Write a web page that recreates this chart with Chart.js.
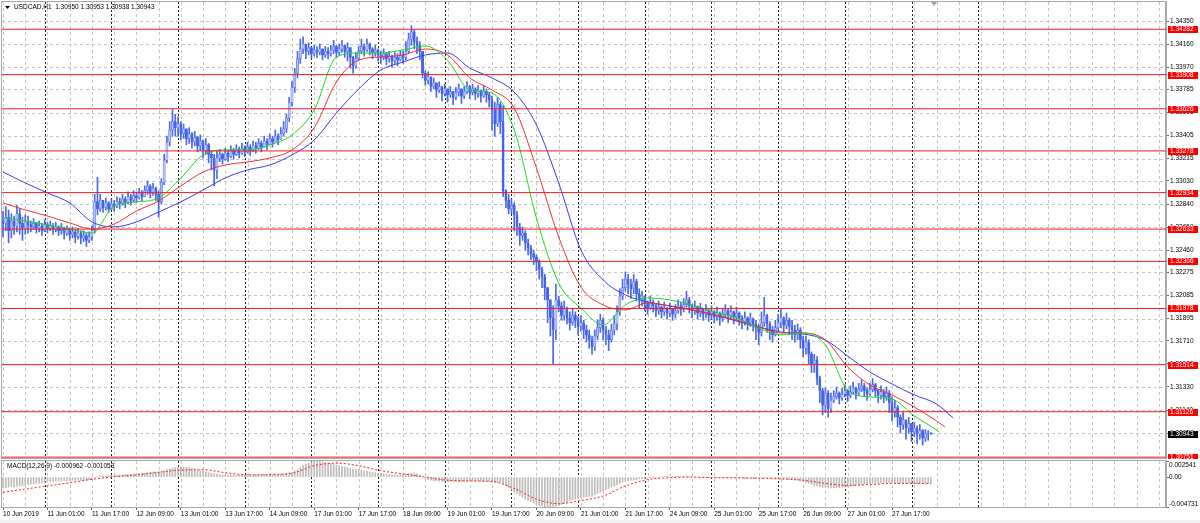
<!DOCTYPE html>
<html>
	<head>
		<meta charset="UTF-8" />
		<title>USDCAD,H1</title>
		<style type="text/css">
body { margin: 0; background: #ffffff; }
.chartBox { position: relative; width: 1200px; height: 523px; overflow: hidden; }
#priceChart { position: absolute; left: 0; top: 0; }
#macdChart { position: absolute; left: 0; top: 459px; }
		</style>
	</head>
	<body>
		<script src="https://cdn.jsdelivr.net/npm/chart.js@4/dist/chart.umd.min.js"></script>
		<div class="chartBox">
			<canvas id="priceChart" width="1200" height="459"></canvas>
			<canvas id="macdChart" width="1200" height="64"></canvas>
		</div>
		<script charset="utf-8">
const title = 'USDCAD,H1  1.30950 1.30953 1.30938 1.30943';
const macdTitle = 'MACD(12,26,9) -0.000962 -0.001053';

// one label every 16 H1 bars, first bar = 10 Jun 09:00
const timeLabels = ['10 Jun 2019', '11 Jun 01:00', '11 Jun 17:00', '12 Jun 09:00', '13 Jun 01:00', '13 Jun 17:00',
	'14 Jun 09:00', '17 Jun 01:00', '17 Jun 17:00', '18 Jun 09:00', '19 Jun 01:00', '19 Jun 17:00', '20 Jun 09:00',
	'21 Jun 01:00', '21 Jun 17:00', '24 Jun 09:00', '25 Jun 01:00', '25 Jun 17:00', '26 Jun 09:00', '27 Jun 01:00',
	'27 Jun 17:00'];
const labelEvery = 16;
const gridEvery = 8;
// bar index of each 00:00 bar (period separators)
const daySeparators = [15, 39, 63, 87, 111, 135, 159, 183, 207, 231, 255, 279, 303, 327, 351];

const priceTicks = [1.34350, 1.34160, 1.33970, 1.33785, 1.33595, 1.33405, 1.33215, 1.33030, 1.32840, 1.32650,
	1.32460, 1.32275, 1.32085, 1.31895, 1.31710, 1.31520, 1.31330, 1.31140, 1.30950];
const levels = [1.34282, 1.33908, 1.33626, 1.33278, 1.32934, 1.32633, 1.32366, 1.31978, 1.31514, 1.31126, 1.30751];
const lastPrice = 1.30943;

const macdTicks = [0.002541, 0, -0.004731];
const macdTickLabels = ['0.002541', '0.00', '-0.004731'];

const firstOpen = 1.3270;
const closes = [
	1.3268,1.3273,1.3262,1.3270,1.3266,1.3276,1.3268,1.3264,1.3270,1.3267,
	1.3265,1.3268,1.3264,1.3266,1.3262,1.3267,1.3264,1.3266,1.3263,1.3265,
	1.3262,1.3264,1.3260,1.3263,1.3259,1.3261,1.3257,1.3260,1.3256,1.3258,1.3254,1.3257,
	1.3262,1.3286,1.3280,1.3287,
	1.3281,1.3285,1.3280,1.3284,1.3282,1.3286,1.3284,1.3288,1.3285,1.3290,1.3287,1.3291,1.3289,1.3293,1.3290,1.3295,1.3299,1.3293,1.3297,1.3292,
	1.3286,
	1.3302,1.3320,1.3335,1.3345,1.3352,1.3347,
	1.3350,1.3342,1.3346,1.3338,1.3342,1.3335,1.3339,1.3332,1.3336,1.3328,1.3333,1.3325,1.3322,
	1.3312,1.3322,
	1.3325,1.3321,1.3326,1.3323,1.3328,1.3325,1.3329,1.3326,1.3330,1.3327,1.3331,1.3328,1.3332,1.3330,1.3334,1.3331,1.3336,1.3333,1.3338,1.3335,1.3340,1.3337,1.3342,1.3346,
	1.3355,1.3368,1.3380,1.3392,1.3404,1.3412,1.3416,
	1.3410,1.3413,1.3408,1.3411,1.3409,1.3412,1.3407,1.3410,1.3408,1.3411,1.3414,1.3409,1.3412,1.3415,1.3410,1.3413,1.3405,1.3398,1.3404,1.3410,
	1.3414,1.3411,1.3416,1.3412,1.3409,1.3411,1.3407,1.3405,1.3408,1.3404,1.3406,1.3402,1.3405,1.3403,1.3407,1.3405,1.3410,
	1.3420,1.3426,1.3418,1.3415,1.3410,
	1.3392,1.3386,1.3389,1.3381,1.3384,1.3378,1.3381,1.3375,1.3379,1.3374,1.3377,1.3372,1.3376,1.3379,1.3373,1.3377,1.3381,1.3376,1.3379,1.3375,1.3378,1.3373,1.3377,1.3374,1.3370,
	1.3362,1.3350,1.3366,1.3352,
	1.3295,
	1.3287,1.3280,1.3283,1.3275,1.3265,1.3258,1.3260,1.3252,1.3248,1.3243,1.3240,1.3236,1.3230,1.3224,1.3215,1.3205,1.3190,
	1.3180,
	1.3205,1.3200,1.3192,1.3198,1.3190,1.3186,1.3192,1.3188,1.3183,1.3186,1.3180,1.3176,1.3172,1.3166,1.3175,1.3182,1.3188,1.3180,1.3176,1.3172,1.3180,1.3185,
	1.3195,1.3208,1.3215,1.3222,1.3218,1.3214,1.3220,1.3210,1.3205,1.3208,
	1.3202,1.3198,1.3203,1.3200,1.3196,1.3199,1.3195,1.3198,1.3194,1.3197,1.3193,1.3196,1.3200,1.3197,1.3201,1.3205,1.3200,1.3196,1.3199,1.3194,
	1.3197,1.3193,1.3196,1.3192,1.3195,1.3191,1.3194,1.3190,1.3193,1.3196,1.3192,1.3195,1.3191,1.3194,1.3190,1.3187,1.3190,1.3186,1.3189,1.3185,
	1.3182,1.3178,1.3186,1.3192,1.3185,1.3180,1.3176,1.3182,1.3186,1.3190,1.3184,1.3188,1.3183,
	1.3180,1.3176,1.3180,1.3172,1.3165,1.3170,1.3160,1.3152,1.3155,1.3140,1.3130,1.3118,1.3128,1.3115,1.3122,
	1.3125,1.3128,1.3124,1.3127,1.3130,1.3126,1.3129,1.3132,1.3128,1.3131,1.3134,1.3130,1.3127,1.3131,1.3135,1.3130,1.3126,1.3129,1.3125,1.3128,
	1.3120,1.3112,1.3116,1.3108,1.3102,1.3106,1.3099,1.3103,1.3096,1.3099,1.3094,1.3097,1.3091,1.3095,1.3095,1.30943
];
const highs = [
	1.3278,1.3282,1.3279,1.3276,1.3274,1.3283,1.3280,1.3273,1.3275,1.3274,
	1.3270,1.3272,1.3269,1.3270,1.3268,1.3271,1.3269,1.3270,1.3268,1.3269,
	1.3266,1.3268,1.3265,1.3266,1.3264,1.3265,1.3263,1.3264,1.3262,1.3262,1.3260,1.3261,
	1.3266,1.3292,1.3306,1.3292,
	1.3287,1.3289,1.3286,1.3288,1.3287,1.3290,1.3289,1.3292,1.3290,1.3294,1.3292,1.3295,1.3294,1.3297,1.3295,1.3299,1.3303,1.3300,1.3301,1.3298,
	1.3295,
	1.3305,1.3325,1.3340,1.3352,1.3362,1.3358,
	1.3356,1.3352,1.3350,1.3346,1.3347,1.3343,1.3344,1.3340,1.3341,1.3337,1.3338,1.3334,1.3328,
	1.3325,1.3328,
	1.3329,1.3326,1.3330,1.3328,1.3332,1.3330,1.3333,1.3331,1.3334,1.3332,1.3335,1.3333,1.3336,1.3335,1.3338,1.3336,1.3340,1.3338,1.3342,1.3340,1.3345,1.3342,1.3347,1.3352,
	1.3358,1.3372,1.3385,1.3396,1.3410,1.3420,1.3422,
	1.3416,1.3417,1.3413,1.3415,1.3414,1.3416,1.3412,1.3414,1.3413,1.3415,1.3419,1.3415,1.3416,1.3419,1.3415,1.3417,1.3413,1.3406,1.3409,1.3414,
	1.3420,1.3416,1.3420,1.3417,1.3413,1.3415,1.3412,1.3410,1.3412,1.3409,1.3410,1.3407,1.3409,1.3408,1.3411,1.3410,1.3418,
	1.3425,1.3431,1.3428,1.3422,1.3418,
	1.3410,1.3394,1.3393,1.3389,1.3388,1.3384,1.3385,1.3381,1.3383,1.3379,1.3381,1.3377,1.3380,1.3383,1.3378,1.3381,1.3385,1.3382,1.3383,1.3380,1.3382,1.3378,1.3381,1.3379,1.3376,
	1.3373,1.3368,1.3372,1.3368,
	1.3365,
	1.3296,1.3292,1.3288,1.3285,1.3278,1.3268,1.3265,1.3262,1.3255,1.3250,1.3246,1.3242,1.3238,1.3232,1.3226,1.3215,1.3205,
	1.3200,
	1.3218,1.3208,1.3203,1.3204,1.3199,1.3195,1.3198,1.3195,1.3191,1.3192,1.3188,1.3184,1.3180,1.3175,1.3180,1.3188,1.3193,1.3190,1.3183,1.3180,1.3185,1.3192,
	1.3200,1.3214,1.3222,1.3228,1.3226,1.3222,1.3226,1.3222,1.3214,1.3212,
	1.3207,1.3204,1.3208,1.3205,1.3202,1.3204,1.3200,1.3203,1.3199,1.3202,1.3198,1.3201,1.3205,1.3203,1.3206,1.3212,1.3207,1.3201,1.3204,1.3200,
	1.3202,1.3198,1.3201,1.3197,1.3200,1.3196,1.3199,1.3195,1.3198,1.3201,1.3197,1.3200,1.3196,1.3199,1.3195,1.3192,1.3195,1.3191,1.3194,1.3190,
	1.3188,1.3185,1.3195,1.3207,1.3193,1.3187,1.3183,1.3188,1.3193,1.3198,1.3191,1.3194,1.3190,
	1.3188,1.3184,1.3185,1.3182,1.3175,1.3175,1.3172,1.3162,1.3160,1.3158,1.3142,1.3132,1.3132,1.3130,1.3128,
	1.3130,1.3133,1.3129,1.3132,1.3135,1.3131,1.3134,1.3137,1.3133,1.3136,1.3139,1.3136,1.3132,1.3136,1.3140,1.3136,1.3131,1.3134,1.3131,1.3133,
	1.3130,1.3125,1.3122,1.3118,1.3110,1.3112,1.3106,1.3108,1.3103,1.3104,1.3101,1.3102,1.3098,1.3098,1.3097,1.30953
];
const lows = [
	1.3257,1.3262,1.3252,1.3256,1.3259,1.3261,1.3259,1.3254,1.3259,1.3260,
	1.3261,1.3263,1.3260,1.3261,1.3258,1.3261,1.3260,1.3262,1.3259,1.3261,
	1.3258,1.3259,1.3255,1.3258,1.3254,1.3256,1.3252,1.3255,1.3251,1.3253,1.3249,1.3252,
	1.3254,1.3260,1.3275,1.3278,
	1.3277,1.3279,1.3277,1.3279,1.3278,1.3281,1.3280,1.3283,1.3281,1.3284,1.3283,1.3286,1.3285,1.3288,1.3286,1.3290,1.3292,1.3289,1.3291,1.3287,
	1.3273,
	1.3284,1.3300,1.3318,1.3332,1.3340,1.3340,
	1.3340,1.3337,1.3338,1.3333,1.3334,1.3330,1.3332,1.3327,1.3328,1.3322,1.3325,1.3318,1.3312,
	1.3299,1.3305,
	1.3319,1.3317,1.3320,1.3319,1.3322,1.3321,1.3324,1.3322,1.3325,1.3323,1.3326,1.3324,1.3327,1.3326,1.3329,1.3327,1.3331,1.3329,1.3333,1.3331,1.3335,1.3333,1.3337,1.3340,
	1.3343,1.3352,1.3365,1.3376,1.3388,1.3400,1.3408,
	1.3404,1.3407,1.3404,1.3406,1.3405,1.3407,1.3403,1.3405,1.3404,1.3406,1.3408,1.3405,1.3407,1.3409,1.3405,1.3402,1.3396,1.3392,1.3396,1.3402,
	1.3408,1.3406,1.3410,1.3407,1.3404,1.3406,1.3402,1.3400,1.3403,1.3399,1.3401,1.3397,1.3400,1.3398,1.3402,1.3400,1.3403,
	1.3408,1.3415,1.3412,1.3408,1.3403,
	1.3388,1.3382,1.3383,1.3377,1.3379,1.3372,1.3376,1.3369,1.3373,1.3368,1.3372,1.3366,1.3370,1.3373,1.3367,1.3371,1.3375,1.3371,1.3374,1.3370,1.3372,1.3368,1.3372,1.3368,1.3364,
	1.3345,1.3340,1.3348,1.3342,
	1.3290,
	1.3281,1.3276,1.3276,1.3262,1.3258,1.3250,1.3254,1.3246,1.3242,1.3238,1.3234,1.3229,1.3222,1.3215,1.3205,1.3186,1.3175,
	1.3152,
	1.3172,1.3195,1.3188,1.3188,1.3185,1.3180,1.3184,1.3182,1.3176,1.3179,1.3173,1.3170,1.3165,1.3160,1.3163,1.3172,1.3178,1.3172,1.3168,1.3163,1.3170,1.3176,
	1.3180,1.3192,1.3205,1.3212,1.3210,1.3206,1.3210,1.3204,1.3198,1.3200,
	1.3196,1.3193,1.3197,1.3195,1.3191,1.3193,1.3190,1.3192,1.3189,1.3191,1.3188,1.3190,1.3194,1.3192,1.3195,1.3199,1.3194,1.3190,1.3193,1.3189,
	1.3191,1.3188,1.3190,1.3187,1.3189,1.3186,1.3188,1.3184,1.3187,1.3190,1.3186,1.3189,1.3185,1.3188,1.3184,1.3181,1.3184,1.3180,1.3183,1.3179,
	1.3172,1.3168,1.3175,1.3183,1.3178,1.3172,1.3170,1.3175,1.3180,1.3182,1.3178,1.3181,1.3176,
	1.3172,1.3170,1.3172,1.3165,1.3158,1.3160,1.3152,1.3145,1.3145,1.3135,1.3120,1.3110,1.3112,1.3108,1.3112,
	1.3120,1.3123,1.3119,1.3122,1.3125,1.3121,1.3124,1.3127,1.3123,1.3126,1.3129,1.3125,1.3122,1.3126,1.3129,1.3125,1.3120,1.3123,1.3120,1.3122,
	1.3112,1.3105,1.3108,1.3100,1.3095,1.3098,1.3090,1.3095,1.3088,1.3092,1.3086,1.3090,1.3085,1.3088,1.3089,1.30938
];

// Alligator lines read every 8 bars; last value sits at lastBar + shift
const maStep = 8;
const jawShift = 8, teethShift = 5, lipsShift = 3;
const jaw = [1.33104,1.33014,1.32931,1.32849,1.32692,1.32651,1.32692,1.32774,1.32857,1.32956,
	1.33055,1.33121,1.33162,1.33245,1.33368,1.33591,1.33789,1.33946,1.34012,1.34070,
	1.34086,1.33962,1.33880,1.33764,1.33492,1.33014,1.32461,1.32213,1.32090,1.32032,
	1.31999,1.31966,1.31925,1.31875,1.31826,1.31784,1.31768,1.31718,1.31586,1.31454,
	1.31355,1.31264,1.31190,1.31075];
const teeth = [1.32849,1.32791,1.32741,1.32684,1.32634,1.32675,1.32782,1.32865,1.32989,1.33104,
	1.33162,1.33187,1.33220,1.33286,1.33468,1.33847,1.34028,1.34053,1.34070,1.34119,
	1.34070,1.33880,1.33781,1.33632,1.33137,1.32568,1.32155,1.32007,1.31966,1.32024,
	1.31999,1.31966,1.31925,1.31883,1.31826,1.31776,1.31776,1.31718,1.31496,1.31347,
	1.31264,1.31165,1.31050,1.31001];
const lips = [1.32725,1.32700,1.32667,1.32634,1.32601,1.32824,1.32857,1.32890,1.33055,1.33245,
	1.33286,1.33286,1.33327,1.33410,1.33616,1.34053,1.34086,1.34086,1.34111,1.34144,
	1.34028,1.33781,1.33756,1.33451,1.32725,1.32189,1.31982,1.31842,1.32007,1.32065,
	1.32048,1.32007,1.31949,1.31900,1.31817,1.31760,1.31776,1.31677,1.31306,1.31248,
	1.31231,1.31091,1.30976,1.30959];

const macdMain = [
	-0.00170,-0.00165,-0.00160,-0.00155,-0.00150,-0.00145,-0.00140,-0.00135,-0.00130,-0.00120,
	-0.00110,-0.00105,-0.00100,-0.00095,-0.00090,-0.00085,-0.00080,-0.00075,-0.00070,-0.00065,
	-0.00060,-0.00060,-0.00055,-0.00055,-0.00050,-0.00050,-0.00050,-0.00050,-0.00050,-0.00050,
	-0.00045,-0.00045,-0.00040,-0.00010,0.00010,0.00020,0.00020,0.00020,0.00025,0.00030,
	0.00030,0.00030,0.00035,0.00035,0.00040,0.00040,0.00045,0.00045,0.00050,0.00050,
	0.00060,0.00065,0.00070,0.00075,0.00080,0.00080,0.00080,0.00090,0.00100,0.00120,
	0.00130,0.00140,0.00150,0.00160,0.00160,0.00160,0.00155,0.00150,0.00140,0.00130,
	0.00110,0.00100,0.00090,0.00080,0.00070,0.00060,0.00050,0.00045,0.00040,0.00035,
	0.00030,0.00030,0.00030,0.00030,0.00030,0.00030,0.00030,0.00030,0.00030,0.00030,
	0.00035,0.00035,0.00040,0.00040,0.00040,0.00040,0.00040,0.00040,0.00045,0.00045,
	0.00050,0.00050,0.00060,0.00070,0.00080,0.00100,0.00120,0.00150,0.00180,0.00200,
	0.00220,0.00240,0.00250,0.002541,0.00250,0.00240,0.00230,0.00220,0.00210,0.00200,
	0.00190,0.00180,0.00170,0.00160,0.00150,0.00140,0.00130,0.00125,0.00120,0.00110,
	0.00100,0.00090,0.00080,0.00075,0.00070,0.00060,0.00055,0.00050,0.00045,0.00040,
	0.00035,0.00035,0.00035,0.00040,0.00045,0.00050,0.00055,0.00060,0.00060,0.00050,
	0.00030,0.00000,-0.00020,-0.00040,-0.00050,-0.00060,-0.00060,-0.00065,-0.00070,-0.00070,
	-0.00070,-0.00070,-0.00070,-0.00070,-0.00070,-0.00070,-0.00070,-0.00070,-0.00065,-0.00065,
	-0.00065,-0.00065,-0.00065,-0.00070,-0.00070,-0.00070,-0.00075,-0.00080,-0.00080,-0.00085,
	-0.00110,-0.00140,-0.00170,-0.00200,-0.00230,-0.00260,-0.00290,-0.00320,-0.00350,-0.00370,
	-0.00390,-0.00410,-0.00430,-0.00450,-0.00460,-0.00470,-0.004731,-0.00470,-0.00465,-0.00460,
	-0.00450,-0.00430,-0.00410,-0.00390,-0.00370,-0.00360,-0.00350,-0.00340,-0.00330,-0.00320,
	-0.00310,-0.00305,-0.00300,-0.00280,-0.00260,-0.00240,-0.00220,-0.00200,-0.00180,-0.00160,
	-0.00140,-0.00120,-0.00100,-0.00080,-0.00070,-0.00060,-0.00050,-0.00045,-0.00040,-0.00030,
	-0.00025,-0.00020,-0.00015,-0.00010,-0.00005,0.00000,0.00000,0.00005,0.00005,0.00010,
	0.00010,0.00010,0.00010,0.00010,0.00005,0.00005,0.00005,0.00005,0.00000,0.00000,
	0.00000,0.00000,-0.00005,-0.00005,-0.00005,-0.00005,-0.00010,-0.00010,-0.00010,-0.00010,
	-0.00010,-0.00010,-0.00015,-0.00015,-0.00015,-0.00015,-0.00015,-0.00020,-0.00020,-0.00020,
	-0.00020,-0.00020,-0.00020,-0.00015,-0.00015,-0.00015,-0.00015,-0.00020,-0.00020,-0.00025,
	-0.00025,-0.00030,-0.00030,-0.00035,-0.00040,-0.00045,-0.00050,-0.00060,-0.00070,-0.00085,
	-0.00100,-0.00115,-0.00130,-0.00140,-0.00150,-0.00160,-0.00165,-0.00170,-0.00170,-0.00170,
	-0.00170,-0.00165,-0.00160,-0.00155,-0.00150,-0.00145,-0.00140,-0.00130,-0.00125,-0.00120,
	-0.00115,-0.00110,-0.00105,-0.00100,-0.00100,-0.00095,-0.00095,-0.00090,-0.00090,-0.00090,
	-0.00090,-0.00090,-0.00095,-0.00095,-0.00100,-0.00100,-0.00100,-0.00105,-0.00105,-0.00105,
	-0.00105,-0.00105,-0.00100,-0.00100,-0.000962
];
// signal read every 8 bars, last value at the last bar
const macdSignal = [-0.0024,-0.0019,-0.0014,-0.0009,-0.00035,0.00005,0.00035,0.00075,0.0011,0.00115,
	0.0007,0.00035,0.0004,0.0006,0.0018,0.0022,0.0018,0.0010,0.0005,0.0000,
	-0.0005,-0.0006,-0.0007,-0.0018,-0.0035,-0.0042,-0.0037,-0.0030,-0.0014,-0.0004,
	-0.0001,0.0000,-0.0001,-0.0001,-0.0002,-0.0003,-0.0005,-0.0010,-0.0013,-0.0012,
	-0.0010,-0.0010,-0.001053];

const lastBar = closes.length - 1;
const viewFirst = -0.37, viewLast = 418.6;
const priceMin = 1.30744, priceMax = 1.34507;
const FONT = 'Liberation Sans';
const FSIZE = 6.5;

Chart.defaults.font.family = FONT;
Chart.defaults.font.size = FSIZE;
Chart.defaults.color = '#000000';

const opens = closes.map((c, i) => (i === 0 ? firstOpen : closes[i - 1]));
const wickData = closes.map((c, i) => ({x: i, y: [Math.min(lows[i], opens[i], c), Math.max(highs[i], opens[i], c)]}));
const bodyData = closes.map((c, i) => ({x: i, y: [opens[i], c]}));
const bodyColors = closes.map((c, i) => (c >= opens[i] ? '#b3c2f5' : '#4463e8'));

function maPoints(values, shift) {
	return values.map((v, j) => ({x: j < values.length - 1 ? j * maStep : lastBar + shift, y: v}));
}

function seg(ctx, x1, y1, x2, y2) {
	ctx.beginPath();
	ctx.moveTo(x1, y1);
	ctx.lineTo(x2, y2);
	ctx.stroke();
}

// dotted MT4 grid + period separators
const mtGrid = {
	id: 'mtGrid',
	beforeDraw(chart, args, opts) {
		const {ctx} = chart;
		ctx.save();
		ctx.fillStyle = '#ffffff';
		ctx.fillRect(0, 0, chart.width, chart.height);
		if (opts.footer) {
			ctx.fillStyle = '#f0f0f0';
			ctx.fillRect(0, chart.height - 3, chart.width, 3);
		}
		ctx.restore();
	},
	beforeDatasetsDraw(chart, args, opts) {
		const {ctx, chartArea: a, scales} = chart;
		const xs = scales.x;
		ctx.save();
		ctx.lineWidth = 1;
		ctx.setLineDash([3, 3]);
		ctx.strokeStyle = '#c4c4c4';
		for (let b = 0; b <= viewLast; b += gridEvery) {
			const px = Math.round(xs.getPixelForValue(b)) + 0.5;
			seg(ctx, px, a.top, px, a.bottom);
		}
		if (opts.priceGrid) {
			priceTicks.forEach(v => {
				const py = Math.round(scales.y.getPixelForValue(v)) + 0.5;
				seg(ctx, a.left, py, a.right, py);
			});
		}
		ctx.strokeStyle = '#202020';
		ctx.setLineDash([2, 2]);
		daySeparators.forEach(b => {
			const px = Math.round(xs.getPixelForValue(b)) + 0.5;
			if (px < a.right) seg(ctx, px, a.top, px, a.bottom);
		});
		ctx.setLineDash([]);
		ctx.strokeStyle = '#a8a8a8';
		seg(ctx, a.left - 0.5, a.top - 1, a.left - 0.5, a.bottom);
		seg(ctx, a.left - 1, a.top - 0.5, a.right, a.top - 0.5);
		seg(ctx, a.left - 1, a.bottom + 0.5, a.right, a.bottom + 0.5);
		ctx.restore();
	}
};

const priceOverlay = {
	id: 'priceOverlay',
	afterDatasetsDraw(chart) {
		const {ctx, chartArea: a, scales: {y}} = chart;
		ctx.save();
		ctx.strokeStyle = '#f21c1c';
		ctx.lineWidth = 1;
		levels.forEach(v => {
			const py = y.getPixelForValue(v);
			seg(ctx, a.left, py, a.right, py);
		});
		ctx.restore();
	},
	afterDraw(chart) {
		const {ctx, chartArea: a, scales: {x, y}} = chart;
		ctx.save();
		ctx.font = FSIZE + 'px "' + FONT + '"';
		ctx.textBaseline = 'middle';
		const tag = (v, bg) => {
			const py = Math.round(y.getPixelForValue(v));
			ctx.fillStyle = bg;
			ctx.fillRect(a.right + 2, py - 3, 30, 7);
			ctx.fillStyle = '#ffffff';
			ctx.fillText(v.toFixed(5), a.right + 4, py + 0.5);
		};
		levels.forEach(v => tag(v, '#ff0000'));
		tag(lastPrice, '#000000');

		// title + collapse arrow
		ctx.fillStyle = '#000000';
		ctx.beginPath();
		ctx.moveTo(5, 6);
		ctx.lineTo(10, 6);
		ctx.lineTo(7.5, 9);
		ctx.closePath();
		ctx.fill();
		ctx.fillText(title, 14, 7.5);

		// chart shift marker
		const sx = Math.round(x.getPixelForValue(lastBar + 1));
		ctx.fillStyle = '#a0a0a0';
		ctx.beginPath();
		ctx.moveTo(sx - 3, a.top);
		ctx.lineTo(sx + 3, a.top);
		ctx.lineTo(sx, a.top + 4);
		ctx.closePath();
		ctx.fill();
		ctx.restore();
	}
};

const macdOverlay = {
	id: 'macdOverlay',
	afterDraw(chart) {
		const {ctx, chartArea: a, scales: {y}} = chart;
		ctx.save();
		ctx.font = FSIZE + 'px "' + FONT + '"';
		ctx.fillStyle = '#000000';
		ctx.textBaseline = 'middle';
		ctx.fillText(macdTitle, 7, a.top + 5.5);
		const bases = ['top', 'middle', 'bottom'];
		macdTicks.forEach((v, j) => {
			ctx.textBaseline = bases[j];
			ctx.fillText(macdTickLabels[j], a.right + 3, y.getPixelForValue(v) + (j === 0 ? 1 : 0));
		});
		ctx.restore();
	}
};

const xScale = {
	type: 'linear',
	min: viewFirst,
	max: viewLast,
	offset: false,
	grid: {display: false, offset: false}
};

new Chart(document.getElementById('priceChart'), {
	type: 'bar',
	data: {
		datasets: [
			{type: 'line', data: maPoints(lips, lipsShift), borderColor: '#1fd81f', borderWidth: 1, pointRadius: 0, cubicInterpolationMode: 'monotone', order: 0},
			{type: 'line', data: maPoints(teeth, teethShift), borderColor: '#f23030', borderWidth: 1, pointRadius: 0, cubicInterpolationMode: 'monotone', order: 0},
			{type: 'line', data: maPoints(jaw, jawShift), borderColor: '#3a3af0', borderWidth: 1, pointRadius: 0, cubicInterpolationMode: 'monotone', order: 0},
			{type: 'bar', data: bodyData, backgroundColor: bodyColors, borderColor: '#4463e8', borderWidth: 0.5, borderSkipped: false, barThickness: 2.2, grouped: false, order: 1},
			{type: 'bar', data: wickData, backgroundColor: '#4a68e6', barThickness: 1, grouped: false, order: 2}
		]
	},
	options: {
		responsive: false,
		devicePixelRatio: 1,
		animation: false,
		layout: {padding: {left: 2, top: 2, bottom: 1, right: 0}},
		plugins: {legend: {display: false}, tooltip: {enabled: false}, mtGrid: {priceGrid: true}},
		scales: {
			x: Object.assign({}, xScale, {display: false}),
			y: {
				type: 'linear',
				position: 'right',
				min: priceMin,
				max: priceMax,
				afterBuildTicks: axis => { axis.ticks = priceTicks.map(v => ({value: v})); },
				afterFit: s => { s.width = 34; s.paddingTop = 0; s.paddingBottom = 0; },
				ticks: {padding: 1, callback: v => v.toFixed(5), autoSkip: false},
				grid: {drawOnChartArea: false, drawTicks: true, tickLength: 3, color: '#606060'},
				border: {display: true, color: '#a8a8a8', width: 2}
			}
		}
	},
	plugins: [mtGrid, priceOverlay]
});

new Chart(document.getElementById('macdChart'), {
	type: 'bar',
	data: {
		datasets: [
			{type: 'line', data: macdSignal.map((v, j) => ({x: j < macdSignal.length - 1 ? j * maStep : lastBar, y: v})),
				borderColor: '#ff2020', borderWidth: 1, borderDash: [2, 2], pointRadius: 0, cubicInterpolationMode: 'monotone', order: 0},
			{type: 'bar', data: macdMain.map((v, i) => ({x: i, y: v})), backgroundColor: '#bcbcbc', barThickness: 1, grouped: false, order: 1}
		]
	},
	options: {
		responsive: false,
		devicePixelRatio: 1,
		animation: false,
		layout: {padding: {left: 2, top: 2, bottom: 0, right: 0}},
		plugins: {legend: {display: false}, tooltip: {enabled: false}, mtGrid: {priceGrid: false, footer: true}},
		scales: {
			x: Object.assign({}, xScale, {
				display: true,
				afterBuildTicks: axis => { axis.ticks = timeLabels.map((t, j) => ({value: j * labelEvery})); },
				afterFit: s => { s.height = 16; s.paddingLeft = 0; s.paddingRight = 0; },
				ticks: {align: 'start', padding: 0, autoSkip: false, maxRotation: 0, minRotation: 0,
					callback: v => timeLabels[Math.round(v / labelEvery)]},
				grid: {display: true, drawOnChartArea: false, drawTicks: true, tickLength: 3, color: '#606060', offset: false},
				border: {display: true, color: '#a8a8a8', width: 1}
			}),
			y: {
				type: 'linear',
				position: 'right',
				min: macdTicks[2],
				max: macdTicks[0],
				afterBuildTicks: axis => { axis.ticks = macdTicks.map(v => ({value: v})); },
				afterFit: s => { s.width = 34; s.paddingTop = 0; s.paddingBottom = 0; },
				ticks: {display: false},
				grid: {drawOnChartArea: false, drawTicks: true, tickLength: 3, color: '#606060'},
				border: {display: true, color: '#a8a8a8', width: 2}
			}
		}
	},
	plugins: [mtGrid, macdOverlay]
});
		</script>
	</body>
</html>
